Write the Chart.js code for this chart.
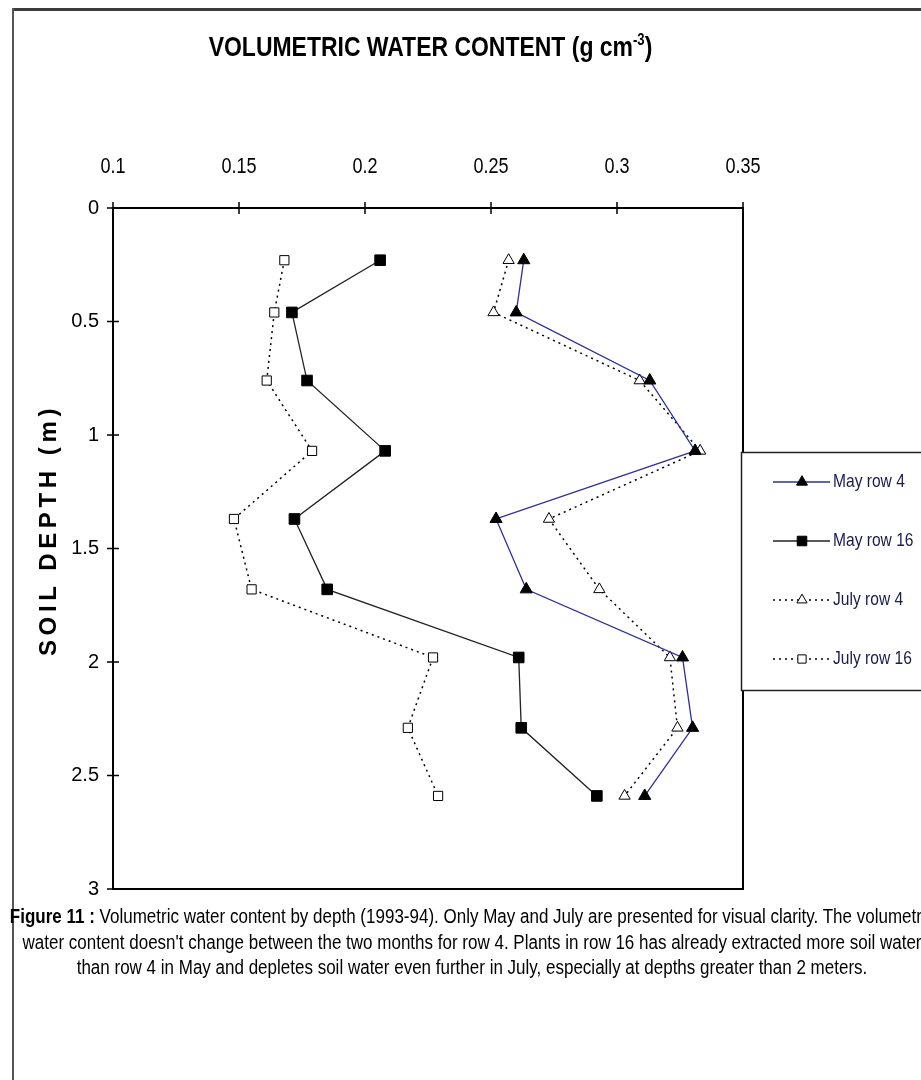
<!DOCTYPE html>
<html>
<head>
<meta charset="utf-8">
<title>Volumetric water content by depth</title>
<script src="https://cdn.jsdelivr.net/npm/chart.js@4.4.0/dist/chart.umd.min.js"></script>
<style>
  html, body { margin: 0; padding: 0; background: #fff; }
  #page { position: relative; width: 921px; height: 1080px; overflow: hidden; background: #fff; }
  #frameTop { position: absolute; left: 12px; top: 8px; width: 909px; height: 3px; background: #3c3c3c; }
  #frameLeft { position: absolute; left: 12px; top: 8px; width: 2px; height: 1072px; background: #555; }
  #chart { position: absolute; left: 0; top: 0; }
  .narrow { font-family: "Liberation Sans Narrow", "Arial Narrow", sans-serif; }
  #title {
    position: absolute; left: 0; width: 861px; top: 33px; text-align: center;
    font-size: 28px; font-weight: bold; line-height: 28px; color: #000; white-space: nowrap;
  }
  #title sup { font-size: 16px; vertical-align: top; position: relative; top: -7px; }
  #ytitle {
    position: absolute; left: 48px; top: 530px; transform: translate(-50%, -50%) rotate(-90deg);
    font-family: "Liberation Sans", Arial, sans-serif; font-weight: bold; font-size: 24px;
    letter-spacing: 4.6px; white-space: nowrap; color: #000;
  }
  #caption {
    position: absolute; left: -128px; width: 1200px; top: 904px; text-align: center;
    font-size: 20px; line-height: 25.5px; color: #000; white-space: nowrap;
  }
</style>
</head>
<body>
<div id="page">
  <div id="frameTop"></div>
  <div id="frameLeft"></div>
  <canvas id="chart" width="921" height="915"></canvas>
  <div id="title" class="narrow">VOLUMETRIC WATER CONTENT (g cm<sup>-3</sup>)</div>
  <div id="ytitle">SOIL DEPTH (m)</div>
  <div id="caption" class="narrow" data-sx="0.85"><b>Figure 11 :</b> Volumetric water content by depth (1993-94). Only May and July are presented for visual clarity. The volumetric<br>water content doesn't change between the two months for row 4. Plants in row 16 has already extracted more soil water<br>than row 4 in May and depletes soil water even further in July, especially at depths greater than 2 meters.</div>
</div>
<script>
// depth of each reading (m) and water content per series (g cm-3)
const depths = [0.23, 0.46, 0.76, 1.07, 1.37, 1.68, 1.98, 2.29, 2.59];
const mayRow4 = [0.263, 0.260, 0.313, 0.331, 0.252, 0.264, 0.326, 0.330, 0.311];
const mayRow16 = [0.206, 0.171, 0.177, 0.208, 0.172, 0.185, 0.261, 0.262, 0.292];
const julyRow4 = [0.257, 0.251, 0.309, 0.333, 0.273, 0.293, 0.321, 0.324, 0.303];
const julyRow16 = [0.168, 0.164, 0.161, 0.179, 0.148, 0.155, 0.227, 0.217, 0.229];
const seriesNames = ['May row 4', 'May row 16', 'July row 4', 'July row 16'];
const xTicks = [0.1, 0.15, 0.2, 0.25, 0.3, 0.35];
const yTicks = [0, 0.5, 1, 1.5, 2, 2.5, 3];

// is the narrow font really there? if not, squeeze the regular one
function hasFont(name) {
  const c = document.createElement('canvas').getContext('2d');
  c.font = '40px monospace';
  const a = c.measureText('mmmWWWiii0.15').width;
  c.font = '40px "' + name + '", monospace';
  return c.measureText('mmmWWWiii0.15').width !== a;
}
const narrowOK = hasFont('Liberation Sans Narrow');
const NARROW = narrowOK ? '"Liberation Sans Narrow"' : '"Liberation Sans"';
const SQUEEZE = narrowOK ? 1 : 0.82;
if (!narrowOK) {
  document.querySelectorAll('.narrow').forEach(el => {
    el.style.fontFamily = '"Liberation Sans", Arial, sans-serif';
    el.style.transform = 'scaleX(' + (el.dataset.sx || 0.82) + ')';
    el.style.transformOrigin = '50% 50%';
  });
}

const pts = vals => vals.map((v, i) => ({ x: v, y: depths[i] }));

function squeezedText(ctx, text, x, y, font, align) {
  ctx.save();
  ctx.translate(x, y);
  ctx.scale(SQUEEZE, 1);
  ctx.font = font;
  ctx.textAlign = align;
  ctx.textBaseline = 'middle';
  ctx.fillText(text, 0, 0);
  ctx.restore();
}

function drawMarker(ctx, style, x, y, r, fill, stroke) {
  ctx.beginPath();
  if (style === 'triangle') {
    const h = r * Math.sqrt(3) / 2;
    ctx.moveTo(x, y - r);
    ctx.lineTo(x + h, y + r / 2);
    ctx.lineTo(x - h, y + r / 2);
    ctx.closePath();
  } else {
    const s = r * Math.SQRT1_2;
    ctx.rect(x - s, y - s, 2 * s, 2 * s);
  }
  ctx.fillStyle = fill;
  ctx.fill();
  ctx.lineWidth = 1;
  ctx.strokeStyle = stroke;
  ctx.stroke();
}

// plot box, ticks crossing the axis lines, condensed top labels
const frame = {
  id: 'frame',
  beforeDatasetsDraw(chart) {
    const { ctx, chartArea: a, scales: { x, y } } = chart;
    ctx.save();
    ctx.strokeStyle = '#000';
    ctx.lineWidth = 2;
    ctx.strokeRect(a.left, a.top, a.right - a.left, a.bottom - a.top);
    ctx.lineWidth = 1.5;
    ctx.beginPath();
    x.ticks.forEach(t => {
      const px = x.getPixelForValue(t.value);
      ctx.moveTo(px, a.top - 6); ctx.lineTo(px, a.top + 6);
    });
    y.ticks.forEach(t => {
      const py = y.getPixelForValue(t.value);
      ctx.moveTo(a.left - 6, py); ctx.lineTo(a.left + 6, py);
    });
    ctx.stroke();
    ctx.fillStyle = '#000';
    x.ticks.forEach(t => {
      squeezedText(ctx, String(t.value), x.getPixelForValue(t.value), a.top - 41, '22px ' + NARROW, 'center');
    });
    ctx.restore();
  }
};

// boxed legend hanging off the right edge
const boxLegend = {
  id: 'boxLegend',
  afterDraw(chart) {
    const ctx = chart.ctx;
    ctx.save();
    ctx.fillStyle = '#fff';
    ctx.fillRect(741, 452, 200, 238);
    ctx.strokeStyle = '#222';
    ctx.lineWidth = 1.5;
    ctx.strokeRect(741.5, 452.5, 200, 238);
    chart.data.datasets.forEach((ds, i) => {
      const cy = 482 + i * 59;
      ctx.strokeStyle = ds.borderColor;
      ctx.lineWidth = ds.borderWidth;
      ctx.setLineDash(ds.borderDash || []);
      ctx.beginPath();
      ctx.moveTo(773, cy); ctx.lineTo(830, cy);
      ctx.stroke();
      ctx.setLineDash([]);
      drawMarker(ctx, ds.pointStyle, 802, cy, ds.pointRadius * 0.9, ds.pointBackgroundColor, ds.pointBorderColor);
      ctx.fillStyle = '#1a1a4e';
      squeezedText(ctx, ds.label, 833, cy, '19px ' + NARROW, 'left');
    });
    ctx.restore();
  }
};

new Chart(document.getElementById('chart'), {
  type: 'scatter',
  data: {
    datasets: [
      {
        label: seriesNames[0], data: pts(mayRow4), showLine: true,
        borderColor: '#2f2f9c', borderWidth: 1.3,
        pointStyle: 'triangle', pointRadius: 7,
        pointBackgroundColor: '#000', pointBorderColor: '#000', pointBorderWidth: 1
      },
      {
        label: seriesNames[1], data: pts(mayRow16), showLine: true,
        borderColor: '#222', borderWidth: 1.3,
        pointStyle: 'rect', pointRadius: 7.5,
        pointBackgroundColor: '#000', pointBorderColor: '#000', pointBorderWidth: 1
      },
      {
        label: seriesNames[2], data: pts(julyRow4), showLine: true,
        borderColor: '#000', borderWidth: 1.5, borderDash: [2, 4],
        pointStyle: 'triangle', pointRadius: 6.5,
        pointBackgroundColor: '#fff', pointBorderColor: '#000', pointBorderWidth: 1
      },
      {
        label: seriesNames[3], data: pts(julyRow16), showLine: true,
        borderColor: '#000', borderWidth: 1.5, borderDash: [2, 4],
        pointStyle: 'rect', pointRadius: 6.5,
        pointBackgroundColor: '#fff', pointBorderColor: '#000', pointBorderWidth: 1
      }
    ]
  },
  options: {
    responsive: false,
    animation: false,
    devicePixelRatio: 1,
    layout: { padding: { left: 0, top: 0, right: 178, bottom: 13 } },
    plugins: { legend: { display: false }, tooltip: { enabled: false } },
    elements: { line: { tension: 0 } },
    scales: {
      x: {
        type: 'linear', position: 'top', min: 0.1, max: 0.35,
        afterBuildTicks: s => { s.ticks = xTicks.map(v => ({ value: v })); },
        afterFit: s => { s.height = 208; },
        ticks: { display: false },
        grid: { drawOnChartArea: false, drawTicks: false },
        border: { display: false }
      },
      y: {
        type: 'linear', reverse: true, min: 0, max: 3,
        afterBuildTicks: s => { s.ticks = yTicks.map(v => ({ value: v })); },
        afterFit: s => { s.width = 113; },
        ticks: {
          callback: v => String(v), color: '#000', padding: 14,
          font: { family: '"Liberation Sans"', size: 20 }
        },
        grid: { drawOnChartArea: false, drawTicks: false },
        border: { display: false }
      }
    }
  },
  plugins: [frame, boxLegend]
});
</script>
</body>
</html>
